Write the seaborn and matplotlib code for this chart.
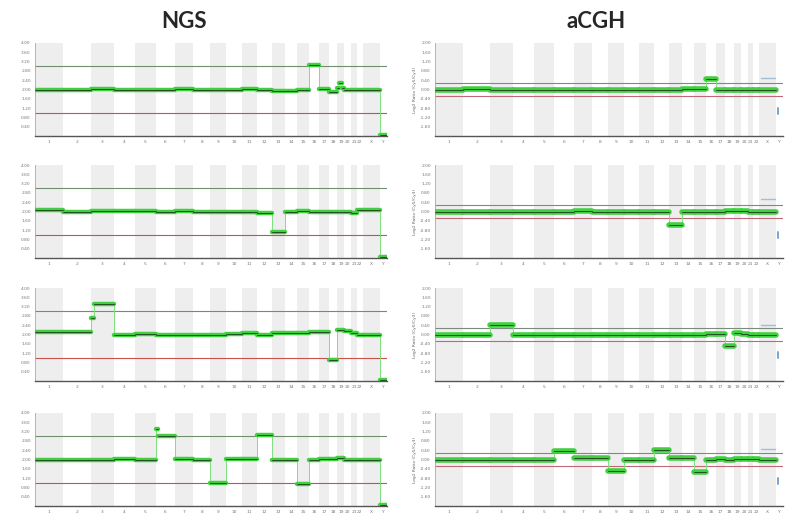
import matplotlib
matplotlib.use('Agg')
from matplotlib import pyplot as plt
import seaborn as sns
import pandas as pd
import numpy as np

chroms = [str(i) for i in range(1, 23)] + ['X', 'Y']
chrom_mb = [249, 243, 198, 191, 181, 171, 159, 146, 141, 136, 135, 134,
            115, 107, 103, 90, 81, 78, 59, 63, 48, 51, 155, 59]

# NGS copy number per chromosome (1..22, X, Y)
ngs1 = [2.0, 1.98, 2.02, 1.97, 2.0, 2.0, 2.01, 1.99, 2.0, 2.0, 2.02, 2.0,
        1.95, 1.93, 1.98, 3.05, 2.02, 1.9, 2.05, 2.0, 1.97, 1.96, 2.0, 0.05]
ngs2 = [2.05, 2.0, 2.02, 2.03, 2.04, 2.0, 2.02, 1.98, 1.97, 2.0, 2.0, 1.95,
        1.1, 1.98, 2.03, 2.0, 1.96, 1.98, 2.0, 1.97, 1.95, 2.05, 2.05, 0.05]
ngs3 = [2.1, 2.12, 3.3, 2.0, 2.02, 2.0, 2.0, 1.98, 2.0, 2.02, 2.06, 2.0,
        2.05, 2.07, 2.05, 2.1, 2.12, 0.9, 2.2, 2.15, 2.05, 2.0, 2.0, 0.05]
ngs4 = [2.0, 1.98, 2.0, 2.02, 2.0, 3.0, 2.02, 2.0, 1.0, 2.02, 2.04, 3.05,
        2.0, 1.98, 0.95, 2.0, 2.02, 2.04, 2.05, 2.0, 1.98, 2.0, 2.0, 0.05]
ngs_subs = [[('19', 0.2, 0.6, 2.3)],
            [],
            [('3', 0.0, 0.15, 2.7)],
            [('6', 0.0, 0.1, 3.3)]]

# aCGH log2 ratio per chromosome (Y has no green trace)
acgh1 = [0.0, 0.02, 0.0, -0.03, -0.04, 0.0, -0.02, 0.0, 0.0, 0.0, 0.0, 0.0,
         0.0, 0.02, 0.01, 0.45, 0.0, -0.03, 0.0, -0.02, 0.0, -0.01, 0.0, None]
acgh2 = [0.0, -0.02, 0.0, 0.0, -0.02, 0.0, 0.02, 0.0, 0.0, -0.02, 0.0, 0.0,
         -0.6, 0.0, -0.02, 0.0, 0.0, 0.02, 0.04, 0.02, 0.0, 0.0, 0.0, None]
acgh3 = [0.0, -0.02, 0.4, 0.0, 0.0, -0.02, 0.0, 0.0, 0.0, -0.02, 0.0, 0.0,
         -0.02, 0.0, 0.0, 0.02, 0.04, -0.5, 0.05, 0.02, 0.0, 0.0, 0.0, None]
acgh4 = [-0.02, 0.0, 0.0, 0.0, 0.0, 0.35, 0.05, 0.05, -0.5, 0.0, 0.0, 0.42,
         0.05, 0.05, -0.55, 0.0, 0.02, 0.0, 0.02, 0.04, 0.02, 0.02, 0.0, None]
acgh_x_blue = [0.5, 0.55, 0.42, 0.45]
acgh_y_blue = [-0.9, -1.0, -0.85, -0.9]

ngs_ticks = [0.4, 0.8, 1.2, 1.6, 2.0, 2.4, 2.8, 3.2, 3.6, 4.0]
acgh_ticks = [-1.6, -1.2, -0.8, -0.4, 0.0, 0.4, 0.8, 1.2, 1.6, 2.0]

starts = np.concatenate([[0], np.cumsum(chrom_mb)[:-1]])
ends = np.cumsum(chrom_mb)
centers = (starts + ends) / 2


def segments(levels, subs):
    rows = []
    for i, c in enumerate(chroms):
        v = levels[i]
        if v is None:
            continue
        cuts = [(0.0, 1.0, v)]
        for sc, a, b, sv in subs:
            if sc == c:
                new = []
                for s, e, lv in cuts:
                    if b <= s or a >= e:
                        new.append((s, e, lv))
                        continue
                    if s < a:
                        new.append((s, a, lv))
                    new.append((max(s, a), min(e, b), sv))
                    if b < e:
                        new.append((b, e, lv))
                cuts = new
        for s, e, lv in cuts:
            rows.append((starts[i] + s * chrom_mb[i], starts[i] + e * chrom_mb[i], lv))
    return rows


def draw(ax, levels, subs, ylim, ticks, hi, lo, hi_col, lo_col, band_lw):
    for i in range(0, len(chroms), 2):
        ax.axvspan(starts[i], ends[i], color='#eeeeee', lw=0, zorder=0)
    ax.axhline(hi, color=hi_col, lw=0.8, zorder=1)
    ax.axhline(lo, color=lo_col, lw=0.8, zorder=1)
    segs = segments(levels, subs)
    recs = []
    for k, (s, e, v) in enumerate(segs):
        recs.append({'pos': s, 'val': v, 'seg': k})
        recs.append({'pos': e, 'val': v, 'seg': k})
    df = pd.DataFrame(recs)
    sns.lineplot(data=df, x='pos', y='val', units='seg', estimator=None,
                 color='#3fcf3f', lw=band_lw, ax=ax, zorder=3)
    sns.lineplot(data=df, x='pos', y='val', units='seg', estimator=None,
                 color='#1e3b1e', lw=0.6, ax=ax, zorder=4)
    for (s0, e0, v0), (s1, e1, v1) in zip(segs[:-1], segs[1:]):
        if abs(v1 - v0) > 0.3:
            ax.plot([s1, s1], [v0, v1], color='#7fe07f', lw=0.7, zorder=2)
    ax.set_xlim(0, ends[-1])
    ax.set_ylim(*ylim)
    ax.set_yticks(ticks)
    ax.set_yticklabels([f'{t:.2f}' for t in ticks], fontsize=3.2, color='#666')
    ax.set_xticks(centers)
    ax.set_xticklabels(chroms, fontsize=3.2, color='#777')
    ax.tick_params(length=1.5, width=0.4, pad=1.5, colors='#777')
    ax.set_xlabel('')
    ax.set_ylabel('')
    for sp in ['top', 'right']:
        ax.spines[sp].set_visible(False)
    ax.spines['bottom'].set_color('#555')
    ax.spines['bottom'].set_linewidth(1.0)
    ax.spines['left'].set_color('#aaa')
    ax.spines['left'].set_linewidth(0.6)


sns.set_style('white')
fig = plt.figure(figsize=(7.88, 5.23), dpi=100)
W, H = 788, 523
tops = [43, 165, 288, 413]
h = 93

ngs_all = [ngs1, ngs2, ngs3, ngs4]
acgh_all = [acgh1, acgh2, acgh3, acgh4]

for r in range(4):
    ax = fig.add_axes([35 / W, 1 - (tops[r] + h) / H, 352 / W, h / H])
    draw(ax, ngs_all[r], ngs_subs[r], (0, 4), ngs_ticks, 3.0, 1.0,
         '#6f8f6f', '#c8504d', 3.2)

    ax = fig.add_axes([435 / W, 1 - (tops[r] + h) / H, 348 / W, h / H])
    draw(ax, acgh_all[r], [], (-2, 2), acgh_ticks, 0.3, -0.3,
         '#7c8c7c', '#c06878', 4.0)
    xi, yi = 22, 23
    ax.plot([starts[xi] + 0.1 * chrom_mb[xi], ends[xi] - 0.05 * chrom_mb[xi]],
            [acgh_x_blue[r], acgh_x_blue[r]], color='#9cc0dc', lw=1.0, zorder=3)
    ax.plot([starts[yi] + 0.3 * chrom_mb[yi], starts[yi] + 0.3 * chrom_mb[yi]],
            [acgh_y_blue[r] + 0.1, acgh_y_blue[r] - 0.15], color='#7aa6cc', lw=1.4, zorder=3)
    ax.set_ylabel('Log2 Ratio (Cy5/Cy3)', fontsize=3.2, color='#666', labelpad=2)

fig.text(184 / W, 1 - 22 / H, 'NGS', ha='center', va='center', fontsize=16,
         fontweight='bold', family='Lato')
fig.text(596 / W, 1 - 22 / H, 'aCGH', ha='center', va='center', fontsize=16,
         fontweight='bold', family='Lato')

fig.savefig('out.png', dpi=100)
